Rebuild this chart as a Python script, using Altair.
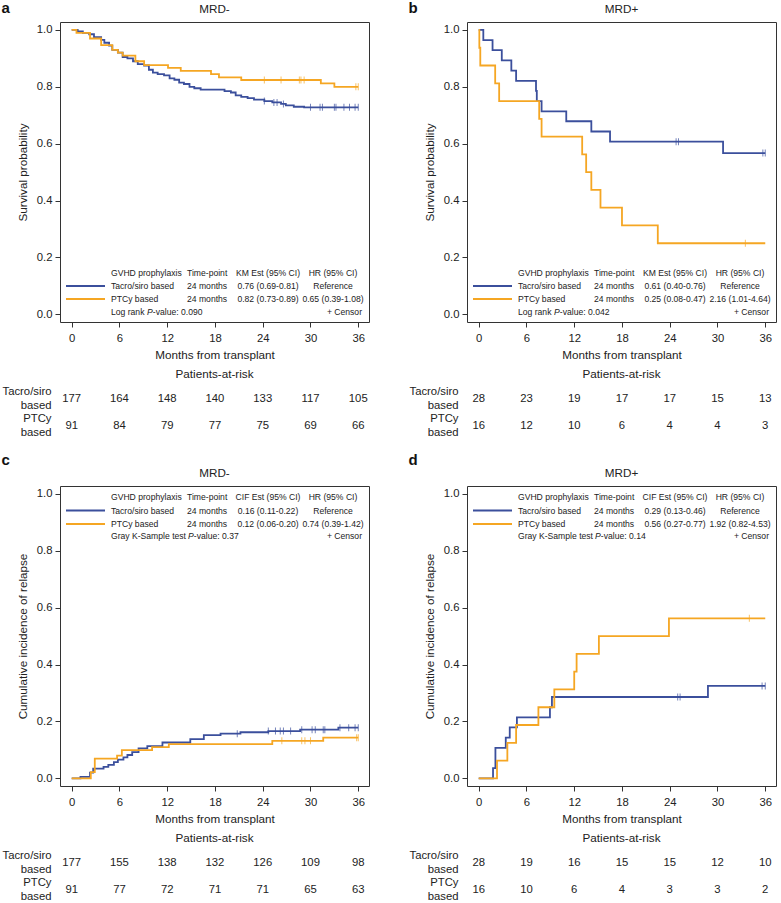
import altair as alt
import pandas as pd

FONT = "Liberation Sans"
BLUE = "#3b4f9c"
ORANGE = "#f5a623"
TXT = "#222222"
GROUPS = ["Tacro/siro based", "PTCy based"]
COLORS = [BLUE, ORANGE]
MONTHS = [0, 6, 12, 18, 24, 30, 36]

# ---------------- panel a : overall survival, MRD- ----------------
a_tacro_t = [0, 0.75, 1.4, 2.2, 2.8, 3.7, 4.1, 4.7, 5.1, 5.8, 6.4, 7.0, 7.7, 8.3, 9.1, 9.7, 10.2, 10.8,
             11.6, 12.3, 12.9, 13.5, 14.1, 14.8, 15.4, 16.2, 19.2, 20.0, 20.6, 21.3, 22.1, 22.9, 24.2,
             25.2, 26.3, 26.9, 27.9, 29.2, 36]
a_tacro_s = [1.0, 0.995, 0.99, 0.985, 0.975, 0.965, 0.955, 0.945, 0.93, 0.92, 0.905, 0.90, 0.89, 0.88,
             0.875, 0.86, 0.85, 0.845, 0.84, 0.83, 0.825, 0.815, 0.81, 0.80, 0.795, 0.79, 0.785, 0.78,
             0.77, 0.765, 0.76, 0.755, 0.75, 0.745, 0.74, 0.735, 0.73, 0.728, 0.728]
a_tacro_cens = [24.2, 25.4, 25.8, 26.6, 30.0, 31.2, 31.5, 33.0, 33.2, 34.2, 34.9, 35.6, 36.0]
a_ptcy_t = [0, 0.6, 2.3, 3.7, 5.1, 5.8, 6.4, 8.0, 9.1, 12.1, 13.7, 17.5, 18.5, 21.3, 31.3, 33.0, 36]
a_ptcy_s = [1.0, 0.99, 0.97, 0.947, 0.93, 0.92, 0.91, 0.89, 0.876, 0.867, 0.856, 0.845, 0.833, 0.824,
            0.812, 0.80, 0.80]
a_ptcy_cens = [24.2, 26.3, 28.6, 28.8, 29.2, 35.7, 36.0]

# ---------------- panel b : overall survival, MRD+ ----------------
b_tacro_t = [0, 0.58, 1.74, 2.9, 4.1, 4.7, 7.2, 7.3, 7.9, 11.0, 14.15, 16.5, 30.7, 36]
b_tacro_s = [1.0, 0.964, 0.929, 0.893, 0.857, 0.821, 0.786, 0.75, 0.714, 0.679, 0.643, 0.607, 0.567, 0.567]
b_tacro_cens = [24.8, 25.1, 35.7, 36.0]
b_ptcy_t = [0, 0.08, 0.2, 2.07, 2.57, 7.6, 7.9, 13.0, 13.5, 14.15, 15.3, 18.0, 22.5, 36]
b_ptcy_s = [1.0, 0.9375, 0.875, 0.8125, 0.75, 0.6875, 0.625, 0.5625, 0.5, 0.4375, 0.375, 0.3125, 0.25, 0.25]
b_ptcy_cens = [33.5]

# ---------------- panel c : cumulative incidence of relapse, MRD- ----------------
c_tacro_t = [0, 1.1, 2.3, 2.7, 4.0, 4.6, 5.3, 5.8, 6.5, 7.0, 7.6, 8.4, 9.5, 11.4, 14.9, 16.6, 18.7,
             21.2, 24.7, 28.7, 33.5, 36]
c_tacro_s = [0, 0.005, 0.02, 0.034, 0.04, 0.047, 0.057, 0.066, 0.074, 0.082, 0.092, 0.105, 0.113,
             0.126, 0.138, 0.152, 0.157, 0.162, 0.166, 0.171, 0.178, 0.178]
c_tacro_cens = [20.8, 24.7, 25.6, 26.2, 26.6, 27.5, 28.9, 30.2, 30.6, 31.6, 31.8, 33.7, 34.8, 35.6, 36.0]
c_ptcy_t = [0, 2.4, 2.9, 5.7, 6.3, 10.1, 12.2, 25.2, 31.6, 36]
c_ptcy_s = [0, 0.022, 0.069, 0.08, 0.099, 0.11, 0.12, 0.132, 0.143, 0.143]
c_ptcy_cens = [26.4, 28.9, 29.3, 30.0, 35.8, 36.0]

# ---------------- panel d : cumulative incidence of relapse, MRD+ ----------------
d_tacro_t = [0, 1.8, 2.1, 3.4, 3.9, 4.8, 8.95, 9.2, 28.8, 36]
d_tacro_s = [0, 0.036, 0.107, 0.143, 0.179, 0.214, 0.25, 0.286, 0.325, 0.325]
d_tacro_cens = [25.0, 25.3, 35.6, 36.0]
d_ptcy_t = [0, 2.3, 3.6, 4.7, 7.5, 9.5, 12.0, 12.3, 15.1, 23.9, 36]
d_ptcy_s = [0, 0.0625, 0.125, 0.1875, 0.25, 0.3125, 0.375, 0.4375, 0.5, 0.5625, 0.5625]
d_ptcy_cens = [34.0]

# ---------------- patients at risk ----------------
a_risk_tacro = [177, 164, 148, 140, 133, 117, 105]
a_risk_ptcy = [91, 84, 79, 77, 75, 69, 66]
b_risk_tacro = [28, 23, 19, 17, 17, 15, 13]
b_risk_ptcy = [16, 12, 10, 6, 4, 4, 3]
c_risk_tacro = [177, 155, 138, 132, 126, 109, 98]
c_risk_ptcy = [91, 77, 72, 71, 71, 65, 63]
d_risk_tacro = [28, 19, 16, 15, 15, 12, 10]
d_risk_ptcy = [16, 10, 6, 4, 3, 3, 2]

# ---------------- legend-table texts ----------------
a_legend = ["KM Est (95% CI)", "0.76 (0.69-0.81)", "Reference", "0.82 (0.73-0.89)", "0.65 (0.39-1.08)"]
b_legend = ["KM Est (95% CI)", "0.61 (0.40-0.76)", "Reference", "0.25 (0.08-0.47)", "2.16 (1.01-4.64)"]
c_legend = ["CIF Est (95% CI)", "0.16 (0.11-0.22)", "Reference", "0.12 (0.06-0.20)", "0.74 (0.39-1.42)"]
d_legend = ["CIF Est (95% CI)", "0.29 (0.13-0.46)", "Reference", "0.56 (0.27-0.77)", "1.92 (0.82-4.53)"]
a_test = ["Log rank ", "P", "-value: 0.090"]
b_test = ["Log rank ", "P", "-value: 0.042"]
c_test = ["Gray K-Sample test ", "P", "-value: 0.37"]
d_test = ["Gray K-Sample test ", "P", "-value: 0.14"]

XDOM = [-1.47, 37.35]
YDOM = [-0.027, 1.028]
PW, PH = 309, 300
TW, TH = 309, 54
LEG_FS = 8.6
ONE = pd.DataFrame({"k": [0]})


def step_value(ts, ss, t):
    v = ss[0]
    for ti, si in zip(ts, ss):
        if ti <= t:
            v = si
    return v


def txt(s, x, y, align="left", italic=False):
    return alt.Chart(ONE).mark_text(
        align=align, baseline="middle", font=FONT, fontSize=LEG_FS, color=TXT,
        fontStyle="italic" if italic else "normal",
    ).encode(x=alt.value(x), y=alt.value(y), text=alt.value(s))


def make_panel(letter, title, ytitle, tacro, ptcy, risk, legend, test, top_legend, p_offset, letter_offset):
    rows = []
    cens = []
    for g, (ts, ss, cs) in zip(GROUPS, [tacro, ptcy]):
        for t, s in zip(ts, ss):
            rows.append({"group": g, "t": t, "s": s})
        for c in cs:
            cens.append({"group": g, "t": c, "s": step_value(ts, ss, c)})
    cdf = pd.DataFrame(rows)
    zdf = pd.DataFrame(cens)

    xsc = alt.Scale(domain=XDOM, nice=False, zero=False)
    ysc = alt.Scale(domain=YDOM, nice=False, zero=False)
    color = alt.Color("group:N", scale=alt.Scale(domain=GROUPS, range=COLORS), legend=None)

    xaxis = alt.Axis(values=MONTHS, tickSize=5, domain=False, grid=False, labelPadding=5,
                     labelFontSize=11.3, labelFont=FONT, labelColor=TXT, tickColor="#333",
                     title="Months from transplant", titleFont=FONT, titleFontSize=11.7,
                     titleFontWeight="normal", titleColor=TXT, titlePadding=6, labelFlush=False)
    yaxis = alt.Axis(values=[round(i * 0.1, 1) for i in range(11)],
                     labelExpr="round(datum.value*10) % 2 == 0 ? format(datum.value, '.1f') : ''",
                     tickSize=5, domain=False, grid=False, labelPadding=3, labelFontSize=11.3,
                     labelFont=FONT, labelColor=TXT, tickColor="#333", title=ytitle, titleFont=FONT,
                     titleFontSize=11.7, titleFontWeight="normal", titleColor=TXT, titlePadding=8,
                     labelFlush=False)

    lines = alt.Chart(cdf).mark_line(interpolate="step-after", strokeWidth=1.8).encode(
        x=alt.X("t:Q", scale=xsc, axis=xaxis),
        y=alt.Y("s:Q", scale=ysc, axis=yaxis),
        color=color,
    )
    ticks = alt.Chart(zdf).mark_tick(orient="vertical", size=7, thickness=1).encode(
        x=alt.X("t:Q", scale=xsc), y=alt.Y("s:Q", scale=ysc), color=color,
    )

    if top_legend:
        ys = [11, 24.5, 38, 50]
    else:
        ys = [251, 264, 277, 290]
    c_name, c_time, c_est, c_hr, c_right = 51, 127, 208, 273, 302
    layers = [lines, ticks]
    layers.append(alt.Chart(ONE).mark_rule(color=BLUE, strokeWidth=2).encode(
        x=alt.value(6), x2=alt.value(45), y=alt.value(ys[1])))
    layers.append(alt.Chart(ONE).mark_rule(color=ORANGE, strokeWidth=2).encode(
        x=alt.value(6), x2=alt.value(45), y=alt.value(ys[2])))
    layers += [
        txt("GVHD prophylaxis", c_name, ys[0]),
        txt("Time-point", c_time, ys[0]),
        txt(legend[0], c_est, ys[0], "center"),
        txt("HR (95% CI)", c_hr, ys[0], "center"),
        txt(GROUPS[0], c_name, ys[1]),
        txt("24 months", c_time, ys[1]),
        txt(legend[1], c_est, ys[1], "center"),
        txt(legend[2], c_hr, ys[1], "center"),
        txt(GROUPS[1], c_name, ys[2]),
        txt("24 months", c_time, ys[2]),
        txt(legend[3], c_est, ys[2], "center"),
        txt(legend[4], c_hr, ys[2], "center"),
        txt(test[0], c_name, ys[3]),
        txt(test[1], c_name + p_offset, ys[3], italic=True),
        txt(test[2], c_name + p_offset + 5.8, ys[3]),
        txt("+ Censor", c_right, ys[3], "right"),
    ]
    plot = alt.layer(*layers).properties(
        width=PW, height=PH,
        title=alt.TitleParams(title, font=FONT, fontSize=11.7, fontWeight="normal", color=TXT, offset=6),
    )

    rdf = pd.DataFrame(
        [{"group": GROUPS[0], "m": m, "n": n} for m, n in zip(MONTHS, risk[0])]
        + [{"group": GROUPS[1], "m": m, "n": n} for m, n in zip(MONTHS, risk[1])]
    )
    table = alt.Chart(rdf).mark_text(font=FONT, fontSize=11.3, color=TXT).encode(
        x=alt.X("m:Q", scale=alt.Scale(domain=XDOM, nice=False, zero=False), axis=None),
        y=alt.Y("group:N", sort=GROUPS, scale=alt.Scale(domain=GROUPS),
                axis=alt.Axis(title=None, domain=False, ticks=False, grid=False,
                              labelExpr="split(datum.label, ' ')", labelFont=FONT,
                              labelFontSize=11.3, labelColor=TXT, labelPadding=9,
                              labelLineHeight=14, labelOffset=-7)),
        text="n:Q",
    ).properties(
        width=TW, height=TH,
        view=alt.ViewBackground(stroke="transparent"),
        title=alt.TitleParams("Patients-at-risk", font=FONT, fontSize=11.7, fontWeight="normal",
                              color=TXT, offset=4),
    )
    return alt.vconcat(
        plot, table, spacing=6,
        title=alt.TitleParams(letter, anchor="start", font=FONT, fontSize=15, fontWeight="bold",
                              color="#111", offset=letter_offset),
    )


pa = make_panel("a", "MRD-", "Survival probability",
                (a_tacro_t, a_tacro_s, a_tacro_cens), (a_ptcy_t, a_ptcy_s, a_ptcy_cens),
                (a_risk_tacro, a_risk_ptcy), a_legend, a_test, False, 36, -12)
pb = make_panel("b", "MRD+", "Survival probability",
                (b_tacro_t, b_tacro_s, b_tacro_cens), (b_ptcy_t, b_ptcy_s, b_ptcy_cens),
                (b_risk_tacro, b_risk_ptcy), b_legend, b_test, False, 36, -12)
pc = make_panel("c", "MRD-", "Cumulative incidence of relapse",
                (c_tacro_t, c_tacro_s, c_tacro_cens), (c_ptcy_t, c_ptcy_s, c_ptcy_cens),
                (c_risk_tacro, c_risk_ptcy), c_legend, c_test, True, 77, 0)
pd_ = make_panel("d", "MRD+", "Cumulative incidence of relapse",
                 (d_tacro_t, d_tacro_s, d_tacro_cens), (d_ptcy_t, d_ptcy_s, d_ptcy_cens),
                 (d_risk_tacro, d_risk_ptcy), d_legend, d_test, True, 77, 0)

chart = alt.vconcat(
    alt.hconcat(pa, pb, spacing=38),
    alt.hconcat(pc, pd_, spacing=38),
    spacing=12,
).configure(
    padding={"left": 1, "top": 0, "right": 0, "bottom": 0},
    background="white",
).configure_view(stroke="#333333", strokeWidth=1)

chart.save("out.html", embed_options={"renderer": "svg", "actions": False})
